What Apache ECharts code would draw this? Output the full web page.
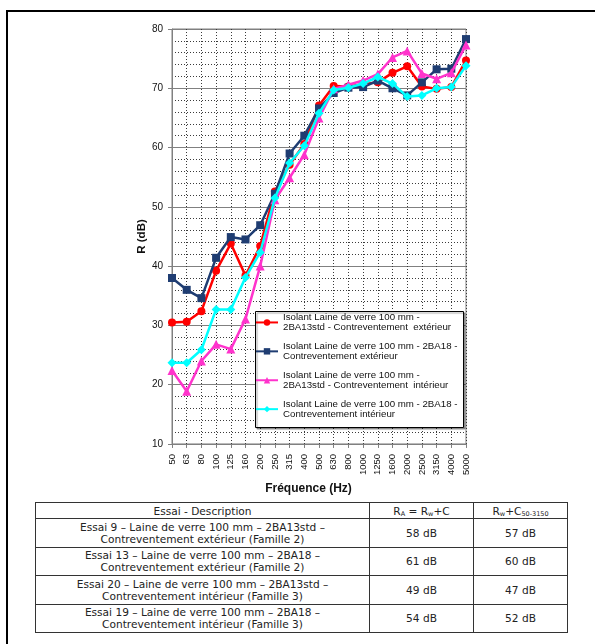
<!DOCTYPE html>
<html>
<head>
<meta charset="utf-8">
<script src="https://cdn.jsdelivr.net/npm/echarts@6/dist/echarts.min.js"></script>
<style>
  html, body { margin: 0; padding: 0; background: #fff; }
  #page { position: relative; width: 595px; height: 644px; overflow: hidden; }
  #frame { position: absolute; left: 6px; top: 10px; width: 600px; height: 650px;
           border-top: 2px solid #000; border-left: 2px solid #000; }
  #chart { position: absolute; left: 0; top: 0; width: 595px; height: 500px; }
  #results { position: absolute; left: 35px; top: 502px; border-collapse: collapse; table-layout: fixed;
             font-family: "DejaVu Sans", Verdana, sans-serif; font-size: 10.6px; color: #222; }
  #results td, #results th { border: 1px solid #333; text-align: center; padding: 0;
             font-weight: normal; line-height: 12px; white-space: nowrap; }
  #results th { height: 15px; }
  #results td { height: 27.5px; }
  #results sub { font-size: 6.5px; vertical-align: -1px; line-height: 0; }
</style>
</head>
<body>
<div id="page">
  <div id="frame"></div>
  <div id="chart"></div>
  <table id="results"></table>
</div>
<script>
// Third-octave frequency bands (Hz)
const frequencies = ['50','63','80','100','125','160','200','250','315','400','500',
  '630','800','1000','1250','1600','2000','2500','3150','4000','5000'];

// Sound reduction index R (dB) per band
const exterieur13std = [30.5, 30.6, 32.4, 39.2, 43.8, 38.4, 43.4, 52.6, 57.1, 60.6, 67.1,
  70.4, 70.3, 70.7, 71.0, 72.6, 73.7, 70.3, 69.9, 70.2, 74.7];
const exterieur18 = [38.0, 36.0, 34.6, 41.4, 44.9, 44.5, 46.9, 52.2, 59.0, 62.0, 66.6,
  69.2, 70.1, 70.2, 71.3, 70.0, 68.8, 71.0, 73.2, 73.3, 78.3];
const interieur13std = [22.4, 18.9, 24.0, 26.8, 26.0, 31.1, 40.0, 51.2, 54.9, 58.8, 65.0,
  69.9, 70.6, 71.3, 72.4, 75.2, 76.3, 72.5, 71.6, 72.6, 77.3];
const interieur18 = [23.7, 23.7, 25.9, 32.7, 32.7, 38.1, 42.3, 51.5, 57.4, 60.3, 65.8,
  69.7, 70.1, 70.8, 71.9, 70.8, 68.6, 68.8, 70.0, 70.2, 73.8];

const seriesNames = [
  'Isolant Laine de verre 100 mm -\n2BA13std - Contreventement  extérieur',
  'Isolant Laine de verre 100 mm - 2BA18 -\nContreventement extérieur',
  'Isolant Laine de verre 100 mm -\n2BA13std - Contreventement  intérieur',
  'Isolant Laine de verre 100 mm - 2BA18 -\nContreventement intérieur'
];

// Summary table
const tableHeader = ['Essai - Description', 'R<sub>A</sub> = R<sub>w</sub>+C', 'R<sub>w</sub>+C<sub>50-3150</sub>'];
const essaiDescriptions = [
  ['Essai 9 – Laine de verre 100 mm – 2BA13std –', 'Contreventement extérieur (Famille 2)'],
  ['Essai 13 – Laine de verre 100 mm – 2BA18 –', 'Contreventement extérieur (Famille 2)'],
  ['Essai 20 – Laine de verre 100 mm – 2BA13std –', 'Contreventement intérieur (Famille 3)'],
  ['Essai 19 – Laine de verre 100 mm – 2BA18 –', 'Contreventement intérieur (Famille 3)']
];
const ratingRA = ['58 dB', '61 dB', '49 dB', '54 dB'];
const ratingRwC = ['57 dB', '60 dB', '47 dB', '52 dB'];

// Build the table
(function () {
  const t = document.getElementById('results');
  const widths = [333, 103, 93];
  let html = '<tr>' + tableHeader.map((h, i) => '<th style="width:' + widths[i] + 'px">' + h + '</th>').join('') + '</tr>';
  essaiDescriptions.forEach((d, i) => {
    html += '<tr><td>' + d[0] + '<br>' + d[1] + '</td><td>' + ratingRA[i] + '</td><td>' + ratingRwC[i] + '</td></tr>';
  });
  t.innerHTML = html;
})();

const chart = echarts.init(document.getElementById('chart'), null, { renderer: 'canvas' });

const colors = ['#FF0000', '#1F3D72', '#FF33CC', '#00FFFF'];
const symbols = ['circle', 'rect', 'triangle', 'diamond'];
const sizes = [8, 8, 9, 9];
const values = [exterieur13std, exterieur18, interieur13std, interieur18];

const font = '"Liberation Sans", Arial, sans-serif';

chart.setOption({
  animation: false,
  grid: { left: 172, top: 29, width: 294, height: 416, show: true,
          borderColor: '#808080', borderWidth: 1, backgroundColor: '#fff' },
  xAxis: {
    type: 'category', data: frequencies, boundaryGap: false,
    name: 'Fréquence (Hz)', nameLocation: 'middle', nameGap: 36,
    nameTextStyle: { fontFamily: font, fontWeight: 'bold', fontSize: 12, color: '#111', padding: [0, 21, 0, 0] },
    axisLine: { lineStyle: { color: '#808080' } },
    axisTick: { show: true, interval: 0, length: 4, lineStyle: { color: '#808080' } },
    axisLabel: { interval: 0, rotate: 90, margin: 10, fontFamily: font, fontSize: 9.5, color: '#111' },
    splitLine: { show: true, interval: 0, lineStyle: { color: '#3a3a3a', type: [1, 2] } }
  },
  yAxis: {
    type: 'value', min: 10, max: 80, interval: 10,
    name: 'R (dB)', nameLocation: 'middle', nameGap: 23,
    nameTextStyle: { fontFamily: font, fontWeight: 'bold', fontSize: 11.5, color: '#111' },
    axisLine: { show: true, lineStyle: { color: '#808080' } },
    axisTick: { show: true, length: 4, lineStyle: { color: '#808080' } },
    axisLabel: { margin: 9, fontFamily: font, fontSize: 10, color: '#111' },
    splitLine: { show: true, lineStyle: { color: '#808080', width: 1 } },
    minorTick: { show: false, splitNumber: 5 },
    minorSplitLine: { show: true, lineStyle: { color: '#3a3a3a', type: [1, 2] } }
  },
  legend: {
    orient: 'vertical', left: 255, top: 307, padding: 0,
    itemWidth: 22, itemHeight: 8, itemGap: -2,
    data: seriesNames,
    textStyle: { fontFamily: font, fontSize: 9.7, color: '#111', lineHeight: 10.3, padding: [10.3, 0, 0, 0] }
  },
  graphic: [{
    type: 'rect', z: 3,
    shape: { x: 255.5, y: 311.5, width: 208, height: 116 },
    style: { fill: '#fff', stroke: '#000', lineWidth: 1,
             shadowColor: 'rgba(0,0,0,0.35)', shadowOffsetX: 1.5, shadowOffsetY: 1.5, shadowBlur: 1 }
  }],
  series: values.map((v, i) => ({
    name: seriesNames[i], type: 'line', data: v,
    symbol: symbols[i], symbolSize: sizes[i], showAllSymbol: true,
    lineStyle: { color: colors[i], width: 2.5 },
    itemStyle: { color: colors[i], borderWidth: 0 },
    z: 2 + i * 0.01
  }))
});
</script>
</body>
</html>
